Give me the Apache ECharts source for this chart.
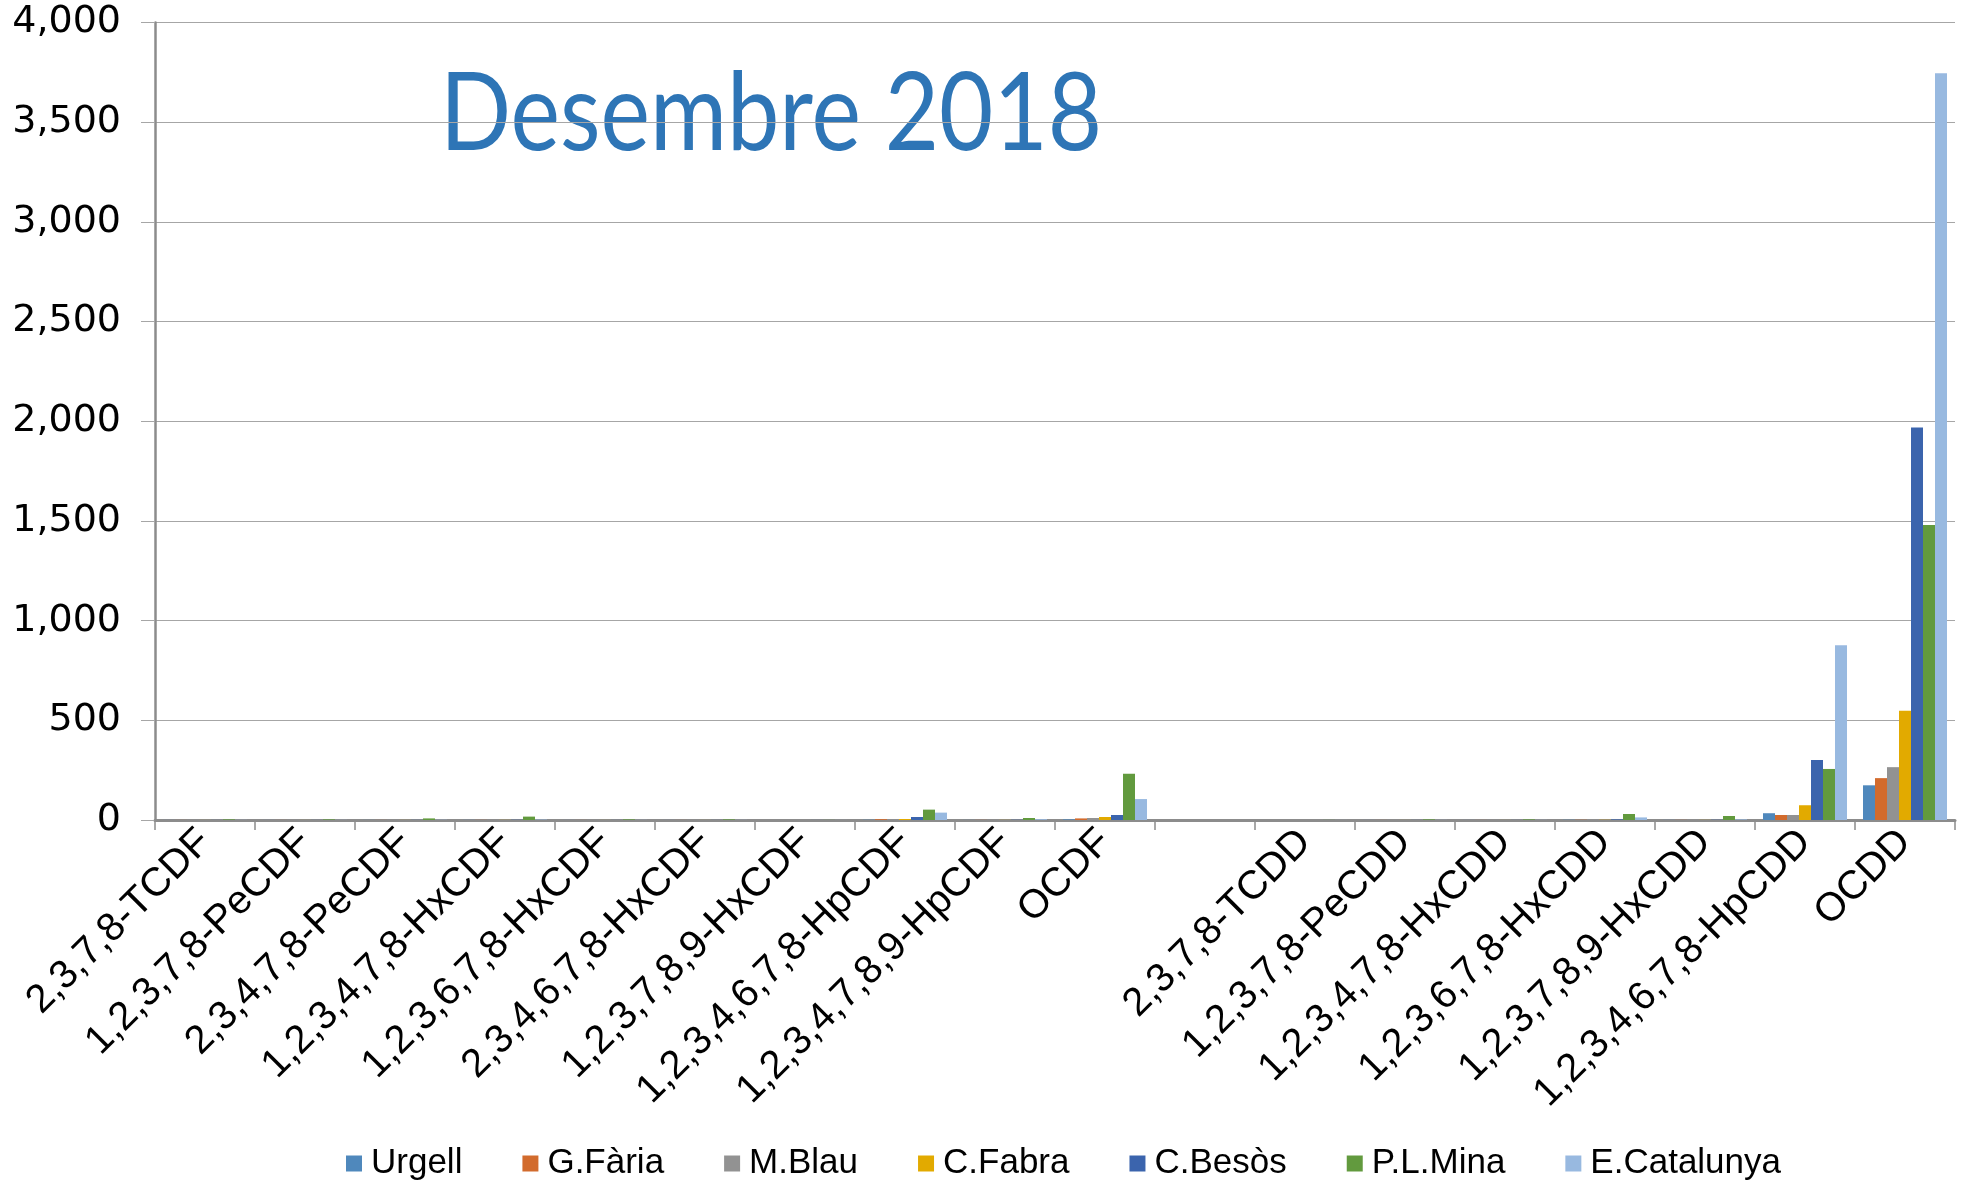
<!DOCTYPE html>
<html>
<head>
<meta charset="utf-8">
<script src="https://cdn.jsdelivr.net/npm/echarts@6/dist/echarts.min.js"></script>
<style>
  html, body { margin: 0; padding: 0; background: #fff; }
  #chart { width: 1961px; height: 1181px; }
</style>
</head>
<body>
<div id="chart"></div>
<script>
const categories = [
  '2,3,7,8-TCDF', '1,2,3,7,8-PeCDF', '2,3,4,7,8-PeCDF', '1,2,3,4,7,8-HxCDF',
  '1,2,3,6,7,8-HxCDF', '2,3,4,6,7,8-HxCDF', '1,2,3,7,8,9-HxCDF', '1,2,3,4,6,7,8-HpCDF',
  '1,2,3,4,7,8,9-HpCDF', 'OCDF', '',
  '2,3,7,8-TCDD', '1,2,3,7,8-PeCDD', '1,2,3,4,7,8-HxCDD', '1,2,3,6,7,8-HxCDD',
  '1,2,3,7,8,9-HxCDD', '1,2,3,4,6,7,8-HpCDD', 'OCDD'
];
const seriesNames = ['Urgell', 'G.Fària', 'M.Blau', 'C.Fabra', 'C.Besòs', 'P.L.Mina', 'E.Catalunya'];
const urgell     = [0.2, 0.2, 0.3, 0.5, 0.2, 0.2, 0.1, 1,  0.3, 3,   null, 0.1, 0.2, 0.2, 1,  0.5, 34,  174];
const gFaria     = [0.2, 0.2, 0.3, 0.5, 0.2, 0.2, 0.1, 4,  0.5, 8,   null, 0.1, 0.2, 0.2, 1,  0.5, 25,  210];
const mBlau      = [0.2, 0.2, 0.3, 0.5, 0.2, 0.2, 0.1, 3,  0.5, 10,  null, 0.1, 0.2, 0.2, 2,  1,   25,  265];
const cFabra     = [0.2, 0.2, 0.3, 0.5, 0.2, 0.2, 0.1, 5,  0.5, 15,  null, 0.1, 0.2, 0.2, 1,  0.5, 74,  548];
const cBesos     = [0.3, 0.3, 0.5, 1,   0.3, 0.3, 0.2, 15, 1,   25,  null, 0.1, 0.3, 0.3, 3,  1,   301, 1969];
const plMina     = [3,   3,   8,   17,  3,   3,   0.5, 52, 10,  232, null, 0.5, 3,   3,   30, 20,  256, 1479];
const eCatalunya = [0.5, 0.5, 1,   2,   0.5, 0.5, 0.2, 37, 4,   105, null, 0.2, 0.5, 0.5, 13, 3,   877, 3745];
const seriesValues = [urgell, gFaria, mBlau, cFabra, cBesos, plMina, eCatalunya];
const seriesColors = ['#4F88BC', '#D26B2D', '#929292', '#E2AA00', '#3B64AD', '#629A3E', '#98B9E0'];
const yTicks = [0, 500, 1000, 1500, 2000, 2500, 3000, 3500, 4000];
const titleText = 'Desembre 2018';

const chart = echarts.init(document.getElementById('chart'), null, { renderer: 'canvas' });

const fmt = v => String(v).replace(/\B(?=(\d{3})+(?!\d))/g, ',');

const option = {
  animation: false,
  backgroundColor: '#ffffff',
  grid: { left: 155, right: 6, top: 22.5, bottom: 361, containLabel: false },
  legend: {
    data: seriesNames,
    left: 341,
    top: 1141,
    icon: 'rect',
    itemWidth: 16,
    itemHeight: 16,
    itemGap: 60,
    textStyle: { fontFamily: 'Liberation Sans', fontSize: 35, color: '#000', padding: [0, 0, 0, 4] }
  },
  graphic: [{
    type: 'text',
    x: 440,
    y: 115,
    scaleX: 0.9,
    scaleY: 1.04,
    style: {
      text: titleText,
      x: 0, y: 0,
      fill: '#2E75B6',
      font: '104px Lato',
      textAlign: 'left',
      textVerticalAlign: 'middle'
    }
  }],
  xAxis: {
    type: 'category',
    data: categories,
    boundaryGap: true,
    axisLine: { show: true, lineStyle: { color: '#8C8C8C', width: 3 } },
    axisTick: { show: true, length: 10, interval: 0, lineStyle: { color: '#8C8C8C', width: 1.5 } },
    axisLabel: {
      interval: 0,
      rotate: 45,
      margin: 16,
      fontFamily: 'Liberation Sans',
      fontSize: 40,
      color: '#000'
    },
    splitLine: { show: false }
  },
  yAxis: {
    type: 'value',
    min: 0,
    max: 4000,
    interval: 500,
    axisLine: { show: true, lineStyle: { color: '#8C8C8C', width: 2.5 } },
    axisTick: { show: true, length: 14, lineStyle: { color: '#A6A6A6', width: 1 } },
    axisLabel: {
      margin: 34,
      fontFamily: 'DejaVu Sans',
      fontSize: 38,
      color: '#000',
      formatter: v => yTicks.indexOf(v) >= 0 ? fmt(v) : ''
    },
    splitLine: { show: true, lineStyle: { color: '#A6A6A6', width: 1 } }
  },
  series: seriesNames.map((name, i) => ({
    name: name,
    type: 'bar',
    data: seriesValues[i],
    barGap: '0%',
    barCategoryGap: '16%',
    itemStyle: { color: seriesColors[i] }
  }))
};

chart.setOption(option);
</script>
</body>
</html>
